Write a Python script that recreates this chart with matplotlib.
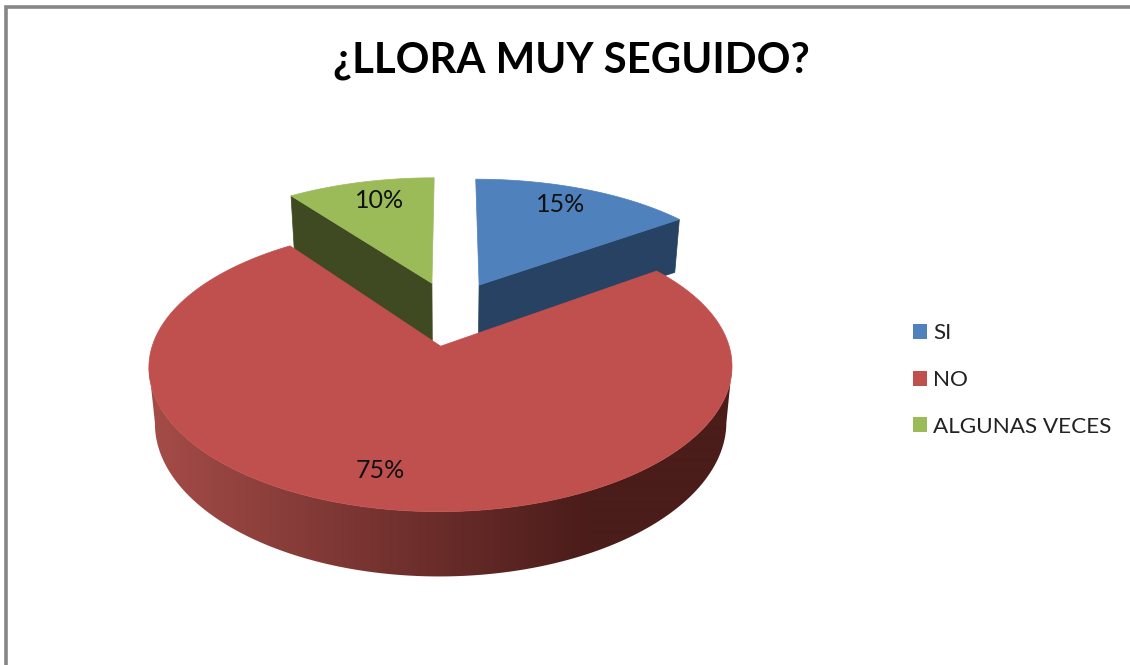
import numpy as np
import matplotlib
matplotlib.use('Agg')
from matplotlib import pyplot as plt
from matplotlib.patches import Patch, Polygon
from matplotlib.colors import to_rgb

title = '¿LLORA MUY SEGUIDO?'
categories = ['SI', 'NO', 'ALGUNAS VECES']
values = [15, 75, 10]
top_colors = ['#4f81bd', '#c0504d', '#9bbb59']
side_colors = ['#274262', '#4a1c1a', '#3f4a22']
side_light = '#a54c48'

W, H = 1130, 665
plt.rcParams['font.family'] = ['Lato', 'DejaVu Sans']

# fake perspective for the tilted pie, numbers fitted by eye
CX, CY = 451, 313
FX, FY = 278.5, 129.5
KX, KY = 0.14, 0.15
EXPL_X, EXPL_Y = 0.229, 0.25
DEPTH = 52.7
BOTTOM_SCALE = 0.98
# cut faces are a bit deeper than the model gives: (at apex, at rim)
FACE_EXTRA = {'SI': (0, 6), 'ALGUNAS VECES': (9, 8)}


def project(u, v, bottom=False):
    x = FX * u / (1 + KX * v)
    y = CY - FY * v / (1 + KY * v)
    if bottom:
        x = x * BOTTOM_SCALE
        y = y + DEPTH / (1 + KY * v)
    return CX + x, y


def slice_points(start, end):
    mid = (start + end) / 2
    off_u = EXPL_X * np.sin(mid)
    off_v = EXPL_Y * np.cos(mid)
    t = np.linspace(start, end, 300)
    return off_u, off_v, off_u + np.sin(t), off_v + np.cos(t)


fig = plt.figure(figsize=(W / 100, H / 100), dpi=100)
ax = fig.add_axes([0, 0, 1, 1])
ax.axis('off')

# frame only shows on top and left in the screenshot
ax.plot([5.5, 5.5, W], [H, 7, 7], color='#868686', lw=2.6, solid_joinstyle='miter')

edges = np.cumsum([0] + values) / sum(values) * 2 * np.pi
# back slices first, red goes on top
for i in [2, 0, 1]:
    name = categories[i]
    ou, ov, us, vs = slice_points(edges[i], edges[i + 1])
    x_top, y_top = project(us, vs)
    x_bot, y_bot = project(us, vs, bottom=True)
    ax_, ay_ = project(ou, ov)
    bx_, by_ = project(ou, ov, bottom=True)

    if name == 'NO':
        # outer wall, shaded left to right. only the front half of the rim,
        # the whole arc overlaps itself and leaves holes in the clip
        t0, t1 = np.argmax(x_top), np.argmin(x_top)
        b0, b1 = np.argmax(x_bot), np.argmin(x_bot)
        wall_x = np.r_[x_top[t0:t1 + 1], x_bot[b0:b1 + 1][::-1]]
        wall_y = np.r_[y_top[t0:t1 + 1], y_bot[b0:b1 + 1][::-1]]
        wall = Polygon(np.c_[wall_x, wall_y], closed=True, transform=ax.transData,
                       facecolor='none', edgecolor='none')
        ax.add_patch(wall)
        ramp = np.clip((np.arange(W) - 150) / (590 - 150), 0, 1)[None, :, None]
        light = np.array(to_rgb(side_light))
        dark = np.array(to_rgb(side_colors[i]))
        img = ax.imshow(light * (1 - ramp) + dark * ramp, extent=[0, W, H, 0],
                        aspect='auto', interpolation='bilinear')
        img.set_clip_path(wall)
    else:
        # cut face that looks to the viewer
        k = -1 if name == 'SI' else 0
        apex_extra, rim_extra = FACE_EXTRA[name]
        ax.fill([ax_, x_top[k], x_bot[k], bx_],
                [ay_, y_top[k], y_bot[k] + rim_extra, by_ + apex_extra],
                color=side_colors[i], lw=0.5)

    ax.fill(np.r_[ax_, x_top], np.r_[ay_, y_top], color=top_colors[i], lw=0.5)

ax.set_xlim(0, W)
ax.set_ylim(H, 0)

label_xy = [(561, 204), (380, 470), (380, 200)]
for val, (lx, ly) in zip(values, label_xy):
    ax.text(lx, ly, f'{val}%', fontsize=18, color='#111111', ha='center', va='center')

ax.text(571, 61, title, fontsize=30.2, fontweight='bold', color='black', ha='center', va='center')

handles = [Patch(facecolor=c, edgecolor='none') for c in top_colors]
ax.legend(handles, categories, loc='center left', bbox_to_anchor=(912.5 / W, 1 - 380 / H),
          frameon=False, fontsize=16.2, handlelength=0.66, handleheight=0.66,
          handletextpad=0.26, labelspacing=1.18, labelcolor='#222222', borderpad=0, borderaxespad=0)

fig.savefig('out.png', dpi=100)
